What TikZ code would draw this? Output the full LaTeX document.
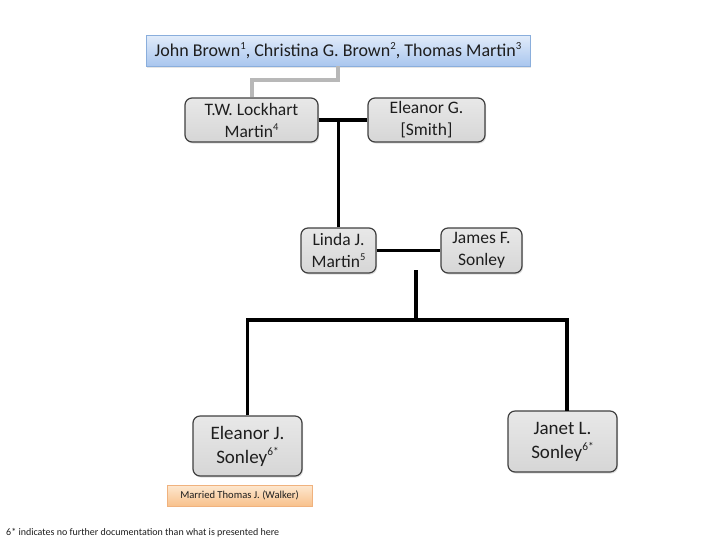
\documentclass[tikz,border=0pt]{standalone}
\usepackage{fontspec}
\setmainfont{Carlito}
\usetikzlibrary{shadows}
\definecolor{boxgrayT}{HTML}{E8E8E8}
\definecolor{boxgrayB}{HTML}{D6D6D6}
\definecolor{boxedge}{HTML}{404040}
\definecolor{blueT}{HTML}{E2ECFA}
\definecolor{blueB}{HTML}{A9C6EE}
\definecolor{blueedge}{HTML}{8AAEDC}
\definecolor{orT}{HTML}{FDE8D0}
\definecolor{orB}{HTML}{F8C18C}
\definecolor{oredge}{HTML}{F0B27E}
\definecolor{txt}{HTML}{1E1E1E}
\newcommand{\sups}[1]{\raisebox{0.38em}{\scalebox{0.6}{#1}}}
\tikzset{
  person/.style={draw=boxedge, line width=1.2pt, rounded corners=7pt,
    top color=boxgrayT, bottom color=boxgrayB, align=center,
    font=\fontsize{17.5}{22}\selectfont, text=txt, inner sep=0pt,
    drop shadow={opacity=0.25, shadow xshift=1pt, shadow yshift=-1.5pt}},
  bigperson/.style={person, font=\fontsize{19}{24}\selectfont},
  rel/.style={line width=3.6pt, black},
  ancestry/.style={line width=4pt, color=black!28},
}
\begin{document}
\begin{tikzpicture}[x=1pt,y=-1pt]
\useasboundingbox (0,0) rectangle (719,539);
\fill[white] (0,0) rectangle (719,539);
% top ancestors box
\node[draw=blueedge, line width=0.8pt, top color=blueT, bottom color=blueB,
  minimum width=384pt, minimum height=31pt, inner sep=0pt, text=txt,
  font=\fontsize{18}{21}\selectfont,
  drop shadow={opacity=0.2, shadow xshift=1pt, shadow yshift=-1.5pt}]
  (top) at (338,50.5) {John Brown\sups{1}, Christina G. Brown\sups{2}, Thomas Martin\sups{3}};
% persons
\node[person, minimum width=133pt, minimum height=44pt] (tw) at (251.5,120) {T.W. Lockhart\\Martin\sups{4}};
\node[person, minimum width=117pt, minimum height=44pt] (eg) at (426.5,120) {Eleanor G.\\{[}Smith{]}};
\node[person, minimum width=75pt, minimum height=45pt] (linda) at (338.5,250.5) {Linda J.\\Martin\sups{5}};
\node[person, minimum width=81pt, minimum height=45pt] (james) at (481.5,250.5) {James F.\\Sonley};
\node[bigperson, minimum width=109pt, minimum height=60pt] (ej) at (247.5,446) {Eleanor J.\\Sonley\sups{6*}};
\node[bigperson, minimum width=109pt, minimum height=61pt] (janet) at (562.5,441.5) {Janet L.\\Sonley\sups{6*}};
% married note
\node[draw=oredge, line width=0.6pt, top color=orT, bottom color=orB,
  minimum width=145pt, minimum height=21pt, inner sep=0pt, text=txt,
  font=\fontsize{10.6}{12}\selectfont,
  drop shadow={opacity=0.15, shadow xshift=0.8pt, shadow yshift=-1pt}]
  (married) at (239.5,495.5) {Married Thomas J. (Walker)};
% footnote
\node[anchor=base west, inner sep=0pt, text=txt, font=\fontsize{10}{12}\selectfont]
  (foot) at (6,535) {6* indicates no further documentation than what is presented here};
% connectors
\coordinate (c1) at (416,270);
\coordinate (c2) at (416,320);
\coordinate (jt) at (567,411);
\draw[ancestry] (top.south) -- ++(0,14) -| (tw.north);
\draw[rel] (tw.east) -- (eg.west);
\draw[rel] (linda.north) -- (linda.north |- tw.east);
\draw[rel] (linda.east) -- (james.west);
\draw[rel] (c1) -- (c2);
\draw[rel] (ej.north) |- (c2) -| (jt);
\end{tikzpicture}
\end{document}
